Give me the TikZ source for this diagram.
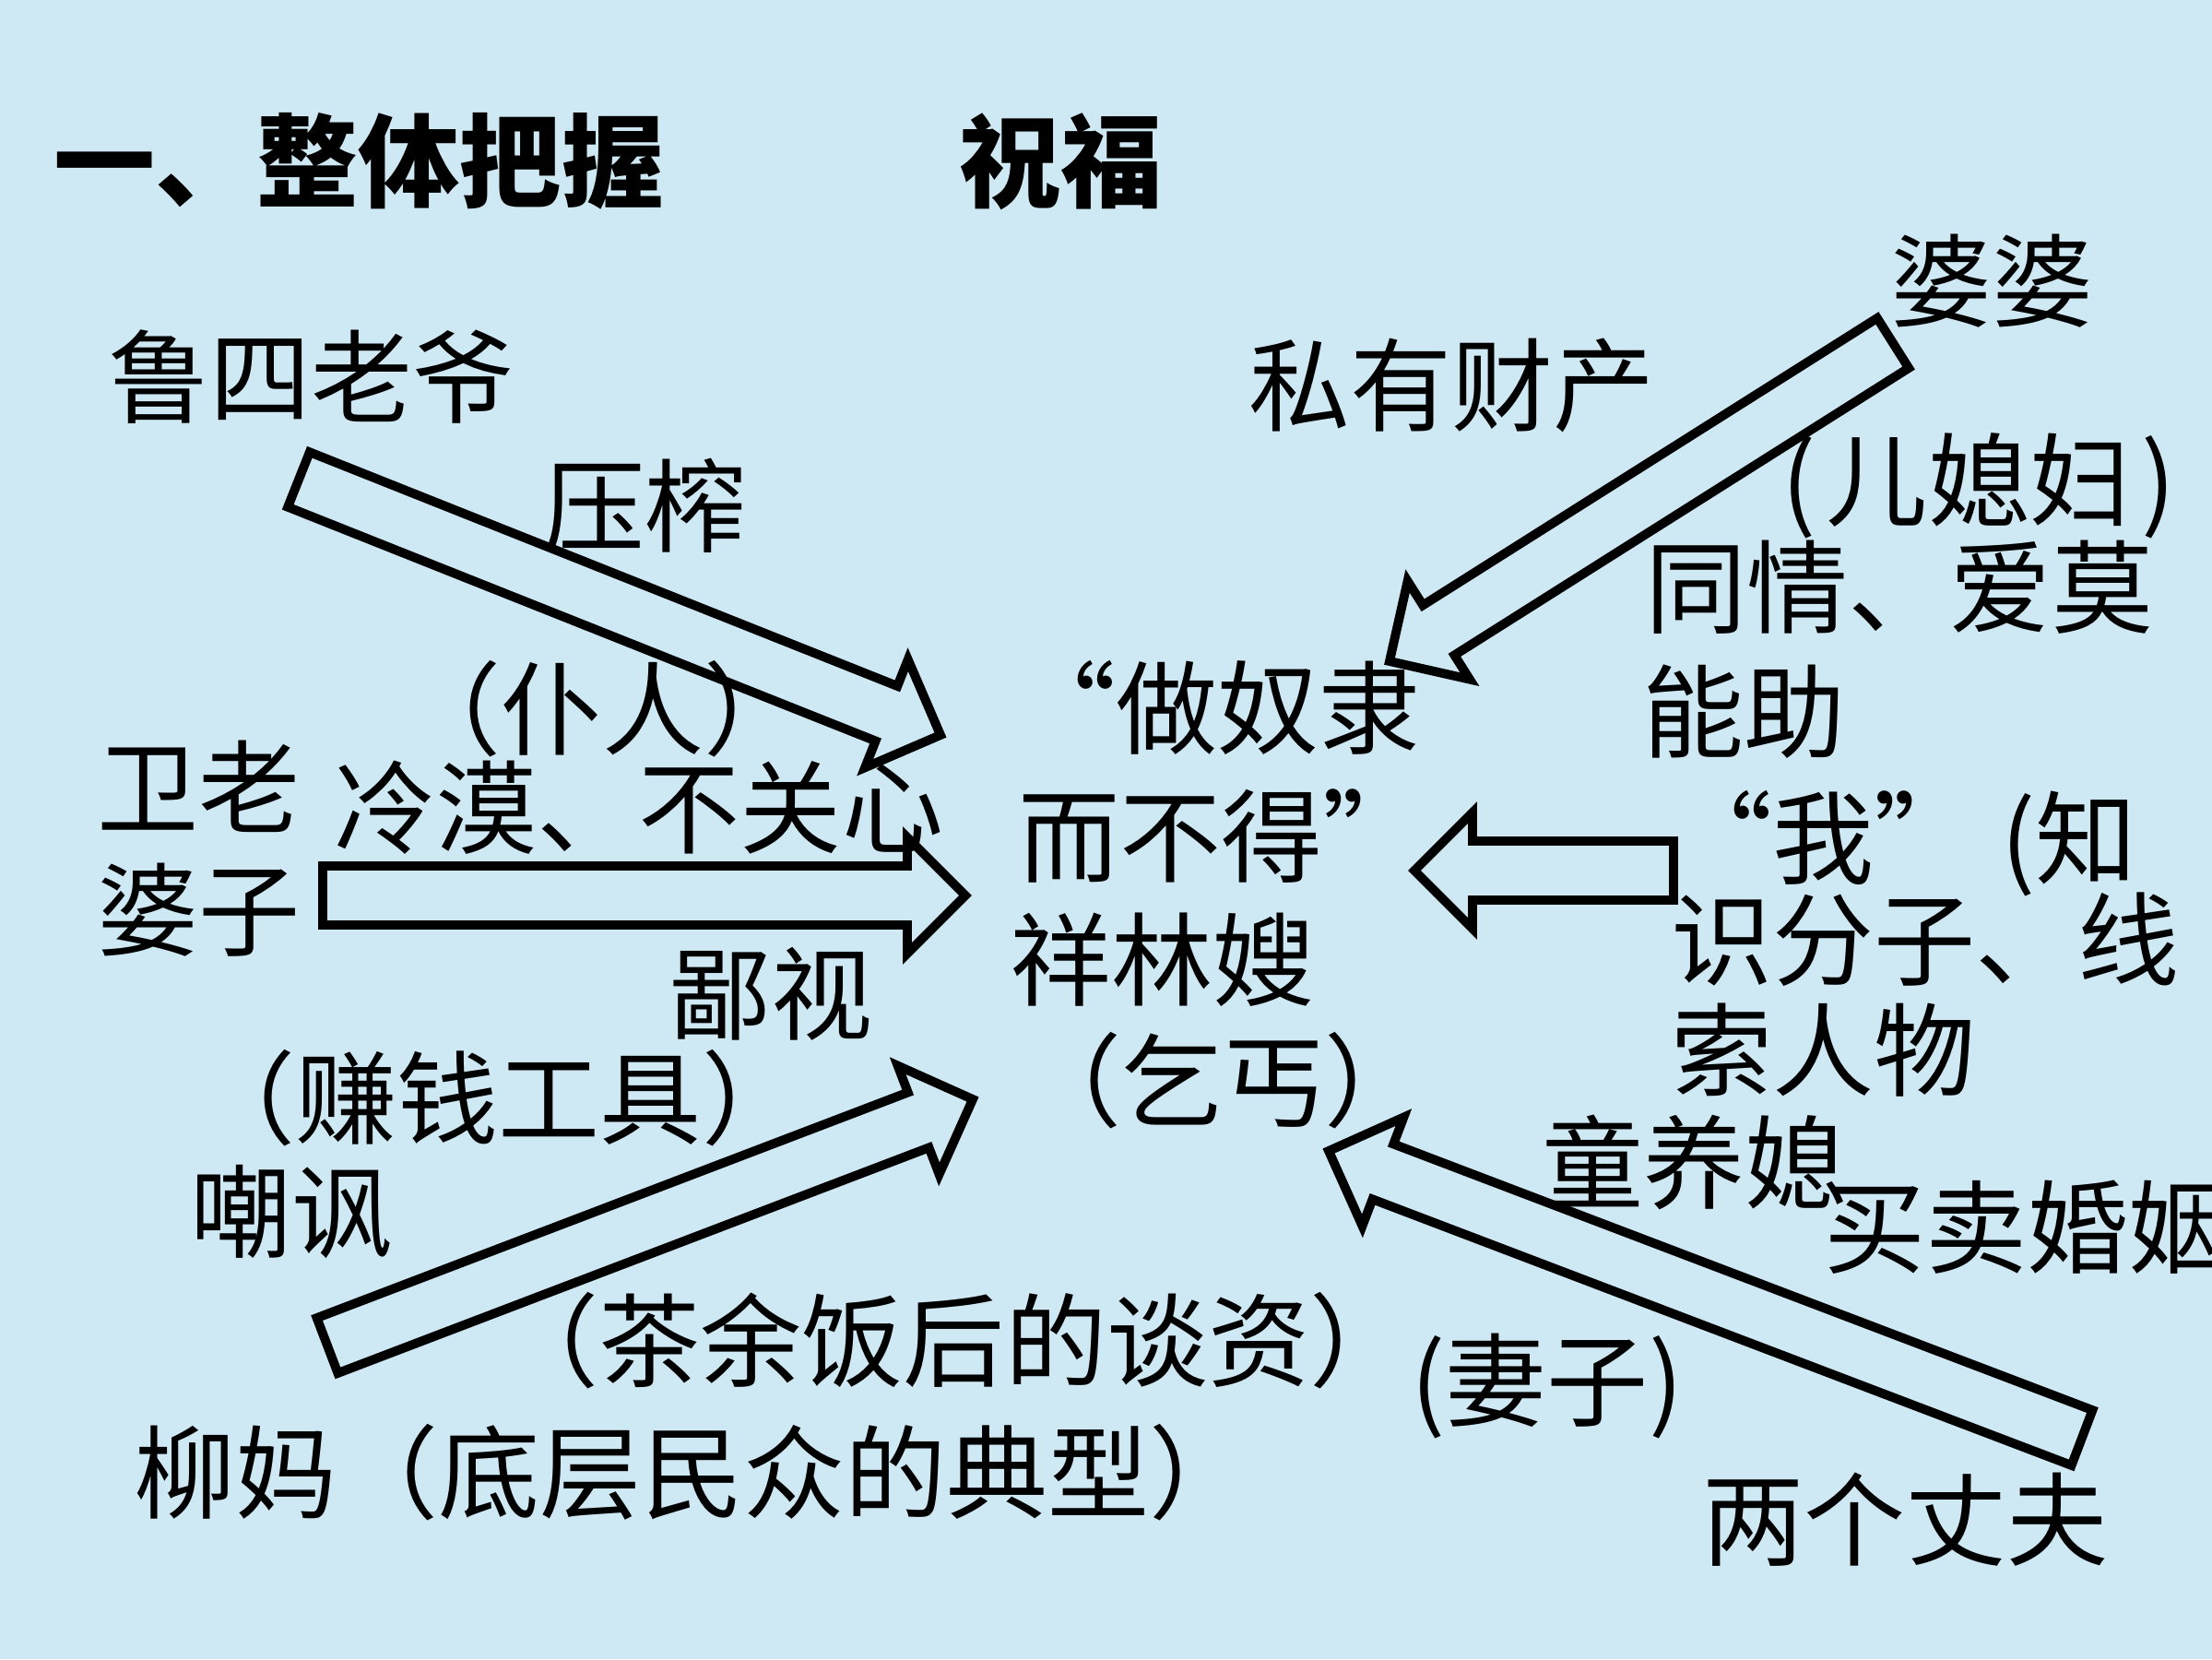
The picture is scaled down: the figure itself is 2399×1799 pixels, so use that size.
\documentclass[tikz,border=0pt]{standalone}
\usepackage{fontspec}
\newfontfamily\cjk{Noto Sans CJK SC}
\usetikzlibrary{calc}
\definecolor{bgblue}{RGB}{207,233,244}
\newcommand\qL{\makebox[1em][r]{“}}
\newcommand\qR{\makebox[1em][l]{”}}
\newcommand\blkarrow[2]{%
  \coordinate (#1-n) at ($(#2)!0.63cm!(#1)$);
  \draw[blk] ($(#1)!0.32cm!90:(#2)$) -- ($(#1-n)!0.32cm!90:(#2)$)
    -- ($(#1-n)!0.63cm!90:(#2)$) -- (#2)
    -- ($(#1-n)!0.63cm!-90:(#2)$) -- ($(#1-n)!0.32cm!-90:(#2)$)
    -- ($(#1)!0.32cm!-90:(#2)$) -- cycle;}
\tikzset{
  t/.style={inner sep=0pt, anchor=west, text height=0.8em, text depth=0.08em,
    yshift=-0.28cm, font=\cjk\fontsize{31.3pt}{36pt}\selectfont},
  tt/.style={t, font=\cjk\bfseries\fontsize{31.3pt}{36pt}\selectfont},
  blk/.style={draw=black, line width=2.8pt, line join=miter}
}
\begin{document}
\begin{tikzpicture}[x=0.01cm,y=-0.01cm]
\clip (0,0) rectangle (2399,1799);
\fill[bgblue] (0,0) rectangle (2399,1799);
% title
\node[tt] (title) at (58,176) {一、整体把握};
\node[tt] (zhufu) at (1040,176) {祝福};
% texts
\node[t] (lusi) at (117,410) {鲁四老爷};
\node[t] (yazha) at (589,550) {压榨};
\node[t] (siyou) at (1354,419) {私有财产};
\node[t] (popo) at (2050,306) {婆婆};
\node[t] (erxifu) at (1932,522) {(\hspace{0.1em}儿媳妇\hspace{0.1em})};
\node[t] (tongqing) at (1784,638) {同情、爱莫};
\node[t] (nengzhu) at (1781,773) {能助};
\node[t] (puren) at (433,770) {（仆人）};
\node[t] (zuonuli) at (1100,769) {\qL 做奴隶};
\node[t] (weilao) at (105,855) {卫老};
\node[t] (lengmo) at (362,877) {冷漠、不关心};
\node[t] (erbude) at (1104,908) {而不得\qR};
\node[t] (pozi) at (105,988) {婆子};
\node[t] (wo) at (1812,910) {\qL 我\qR\hspace{0.25em}(知};
\node[t] (shifenzi) at (1812,1020) {识分子、线};
\node[t] (suorenwu) at (1812,1140) {索人物};
\node[t] (xianglin) at (1095,1042) {祥林嫂};
\node[t] (bishi) at (726,1079) {鄙视};
\node[t] (zhuanqian) at (210,1192) {（赚钱工具）};
\node[t] (qigai) at (1106,1173) {（乞丐）};
\node[t] (tongyang) at (1672,1262) {童养媳};
\node[t] (maimai) at (1978,1332) {买卖婚姻};
\node[t] (chaofeng) at (206,1315) {嘲讽};
\node[t] (chayu) at (539,1455) {（茶余饭后的谈资）};
\node[t] (qizi) at (1530,1498) {(妻子)};
\node[t] (liuma) at (145,1598) {柳妈（底层民众的典型）};
\node[t] (liangge) at (1846,1649) {两个丈夫};
% block arrows
\coordinate (aT) at (324,520);   \coordinate (aH) at (1020,797);
\coordinate (bT) at (350,971);   \coordinate (bH) at (1047,971);
\coordinate (cT) at (355,1459);  \coordinate (cH) at (1055,1192);
\coordinate (dT) at (2053,372);  \coordinate (dH) at (1507,717);
\coordinate (eT) at (1815,944);  \coordinate (eH) at (1534,944);
\coordinate (fT) at (2258,1559); \coordinate (fH) at (1441,1248);
\blkarrow{aT}{aH}
\blkarrow{bT}{bH}
\blkarrow{cT}{cH}
\blkarrow{dT}{dH}
\blkarrow{eT}{eH}
\blkarrow{fT}{fH}
\end{tikzpicture}
\end{document}
